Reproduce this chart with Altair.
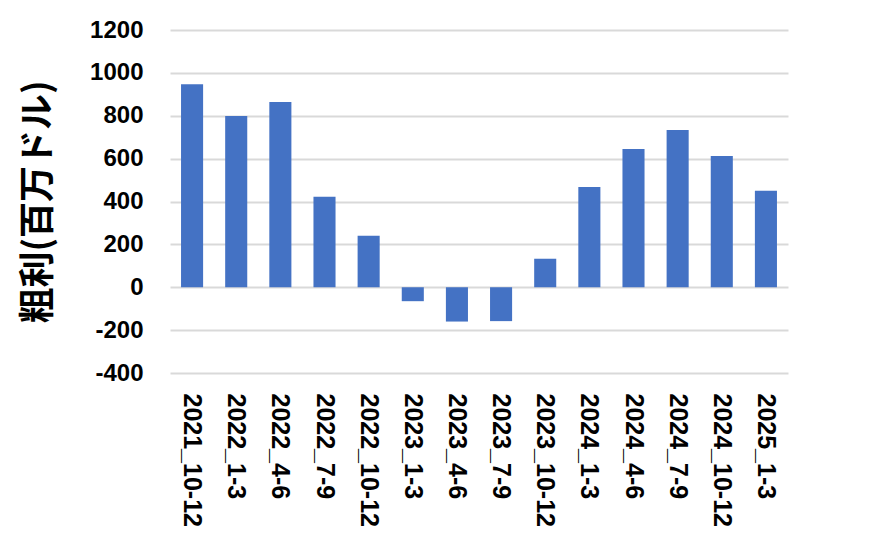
import altair as alt
import pandas as pd

quarters = ["2021_10-12", "2022_1-3", "2022_4-6", "2022_7-9", "2022_10-12",
            "2023_1-3", "2023_4-6", "2023_7-9", "2023_10-12", "2024_1-3",
            "2024_4-6", "2024_7-9", "2024_10-12", "2025_1-3"]
gross_profit = [947, 799, 864, 422, 240, -65, -160, -158, 133, 468, 645, 733, 612, 450]
y_ticks = [-400, -200, 0, 200, 400, 600, 800, 1000, 1200]

df = pd.DataFrame({"q": quarters, "v": gross_profit})

chart = alt.Chart(df).mark_bar(color="#4472C4").encode(
    x=alt.X("q:N", sort=quarters, title=None,
            scale=alt.Scale(paddingInner=0.5, paddingOuter=0.25),
            axis=alt.Axis(labelAngle=90, labelAlign="left", labelBaseline="middle",
                          labelFont="Liberation Sans", labelFontWeight="bold",
                          labelFontSize=25, labelColor="#000000", labelPadding=20,
                          labelLimit=300,
                          domain=False, ticks=False, grid=False)),
    y=alt.Y("v:Q", title="粗利(百万ドル)",
            scale=alt.Scale(domain=[-400, 1200], nice=False),
            axis=alt.Axis(values=y_ticks, labelExpr="'' + datum.value",
                          labelFont="Liberation Sans",
                          labelFontWeight="bold", labelFontSize=24,
                          labelColor="#000000", labelPadding=27,
                          domain=False, ticks=False, gridColor="#d9d9d9",
                          gridWidth=2, titleFont="Noto Sans CJK JP",
                          titleFontSize=36, titleFontWeight="bold",
                          titleColor="#000000", titlePadding=32)),
).properties(
    width=618, height=343,
    autosize=alt.AutoSizeParams(type="none"),
    padding={"left": 162, "top": 22, "right": 91, "bottom": 167},
).configure_view(stroke=None)

chart.save("out.html", embed_options={"renderer": "svg", "actions": False})
